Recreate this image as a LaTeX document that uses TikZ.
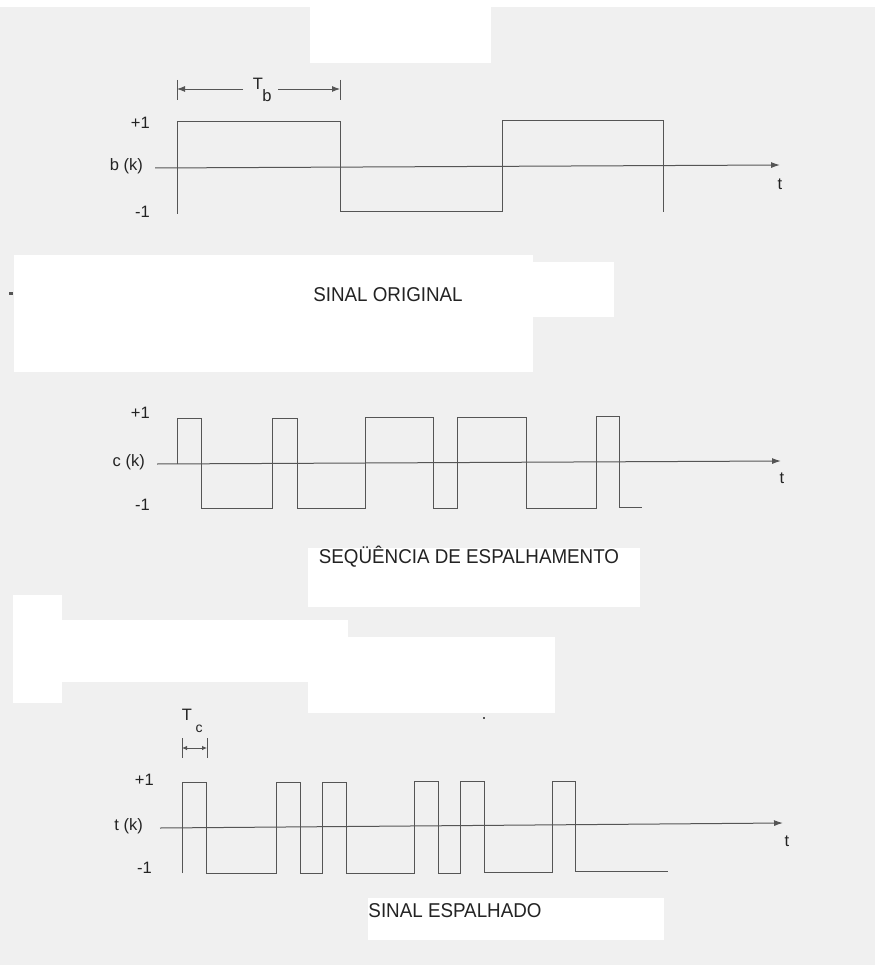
\documentclass[tikz,border=0pt]{standalone}
\usepackage{fontspec}
\usepackage{graphicx}
\setmainfont{Liberation Sans}
\usetikzlibrary{arrows.meta}
\definecolor{bg}{RGB}{240,240,240}
\definecolor{ink}{RGB}{85,85,85}
\definecolor{txt}{RGB}{35,35,35}
\tikzset{
  wave/.style={draw=ink,line width=1pt,line join=miter},
  axisline/.style={draw=ink,line width=1pt,-{Latex[length=9pt,width=6pt]}},
  tick/.style={draw=ink,line width=0.9pt},
  dimline/.style={draw=ink,line width=0.9pt,-{Latex[length=8pt,width=6pt]}},
  dimboth/.style={draw=ink,line width=0.8pt,{Latex[length=5pt,width=4.5pt]}-{Latex[length=5pt,width=4.5pt]}},
  lbl/.style={text=txt,font=\fontsize{16.5}{16.5}\selectfont,inner sep=0pt},
  sublbl/.style={text=txt,font=\fontsize{14}{14}\selectfont,inner sep=0pt},
  ttl/.style={text=txt,font=\fontsize{20}{20}\selectfont,inner sep=0pt},
  patch/.style={fill=white}
}
\newcommand{\narrow}[1]{\scalebox{0.94}[1]{#1}}
\begin{document}
\begin{tikzpicture}[x=1pt,y=-1pt]
\useasboundingbox (0,0) rectangle (875,965);
\fill[bg] (0,0) rectangle (875,965);
% white patches of the scanned page
\fill[patch] (0,0) rectangle (875,7);
\fill[patch] (310,0) rectangle (491,63);
\fill[patch] (14,255) rectangle (533,372);
\fill[patch] (533,262) rectangle (614,317);
\fill[patch] (308,548) rectangle (640,607);
\fill[patch] (13,595) rectangle (62,703);
\fill[patch] (62,620) rectangle (348,682);
\fill[patch] (308,637) rectangle (555,713);
\fill[patch] (368,898) rectangle (664,940);
\fill[ink] (9,292) rectangle (13,294.5);
\fill[ink] (483,717) rectangle (485,719);

% ---------------- panel 1: b(k)
\coordinate (a1s) at (155,168);
\coordinate (a1e) at (780,165);
\draw[axisline] (a1s) -- (a1e);
\draw[wave] (177,214) -- (177,122) -- (340,122) -- (340,212) -- (502,212) -- (502,121) -- (663,121) -- (663,212);
\node[lbl,anchor=east] (p1hi) at (150,123) {+1};
\node[lbl,anchor=east] (p1name) at (143,166) {b (k)};
\node[lbl,anchor=east] (p1lo) at (150,212) {-1};
\node[lbl] (p1t) at (780,184) {t};
% Tb
\coordinate (tb1a) at (177,80); \coordinate (tb1b) at (177,100);
\coordinate (tb2a) at (340,80); \coordinate (tb2b) at (340,100);
\draw[tick] (tb1a) -- (tb1b);
\draw[tick] (tb2a) -- (tb2b);
\coordinate (tbL) at (177,89); \coordinate (tbR) at (340,89);
\coordinate (tbLm) at (243,89); \coordinate (tbRm) at (278,89);
\draw[dimline] (tbLm) -- (tbL);
\draw[dimline] (tbRm) -- (tbR);
\node[lbl] (tbT) at (258,84) {T};
\node[lbl] (tbb) at (267,96) {b};
\node[ttl] (ttl1) at (388,295) {\narrow{SINAL ORIGINAL}};

% ---------------- panel 2: c(k)
\coordinate (a2s) at (157,464);
\coordinate (a2e) at (781,461);
\draw[axisline] (a2s) -- (a2e);
\draw[wave] (177,464) -- (177,418) -- (201,418) -- (201,508) -- (272,508) -- (272,418) -- (297,418) -- (297,508) -- (365,508) -- (365,417) -- (433,417) -- (433,508) -- (457,508) -- (457,417) -- (526,417) -- (526,508) -- (596,508) -- (596,416) -- (619,416) -- (619,507) -- (642,507);
\node[lbl,anchor=east] (p2hi) at (150,413) {+1};
\node[lbl,anchor=east] (p2name) at (145,462) {c (k)};
\node[lbl,anchor=east] (p2lo) at (150,505) {-1};
\node[lbl] (p2t) at (782,478) {t};
\node[ttl] (ttl2) at (469,557) {\narrow{SEQÜÊNCIA DE ESPALHAMENTO}};

% ---------------- panel 3: t(k)
\coordinate (a3s) at (160,828);
\coordinate (a3e) at (783,823);
\draw[axisline] (a3s) -- (a3e);
\draw[wave] (182,873) -- (182,782) -- (206,782) -- (206,873) -- (276,873) -- (276,782) -- (300,782) -- (300,873) -- (322,873) -- (322,782) -- (346,782) -- (346,873) -- (414,873) -- (414,781) -- (438,781) -- (438,873) -- (460,873) -- (460,781) -- (484,781) -- (484,872) -- (552,872) -- (552,781) -- (575,781) -- (575,871) -- (668,871);
\node[lbl,anchor=east] (p3hi) at (154,780) {+1};
\node[lbl,anchor=east] (p3name) at (143,826) {t (k)};
\node[lbl,anchor=east] (p3lo) at (152,868) {-1};
\node[lbl] (p3t) at (787,841) {t};
% Tc
\coordinate (tc1a) at (182,738); \coordinate (tc1b) at (182,758);
\coordinate (tc2a) at (207,738); \coordinate (tc2b) at (207,758);
\draw[tick] (tc1a) -- (tc1b);
\draw[tick] (tc2a) -- (tc2b);
\coordinate (tcL) at (182,748); \coordinate (tcR) at (207,748);
\draw[dimboth] (tcL) -- (tcR);
\node[lbl] (tcT) at (187,715) {T};
\node[sublbl] (tcc) at (199,729) {c};
\node[ttl] (ttl3) at (455,911) {\narrow{SINAL ESPALHADO}};
\end{tikzpicture}
\end{document}
